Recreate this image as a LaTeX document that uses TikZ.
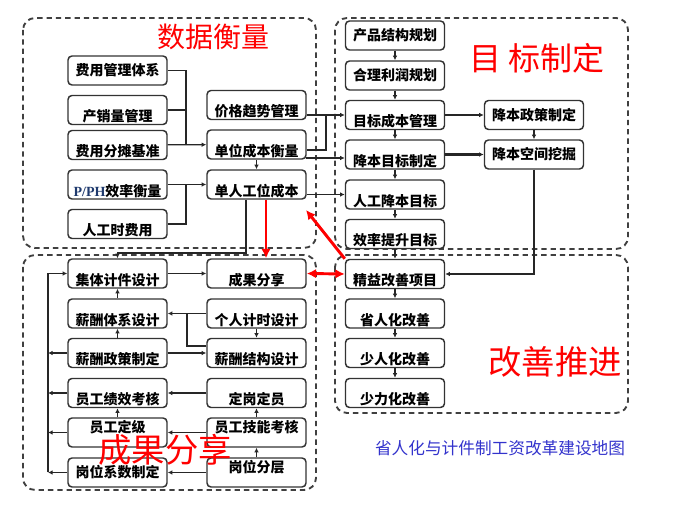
\documentclass[tikz,border=0pt]{standalone}
\usepackage{fontspec}
\setmainfont{Noto Sans CJK SC}
\newfontfamily\latinserif{Liberation Serif}
\usepackage{tikz}
\usetikzlibrary{arrows.meta,calc}
\definecolor{capblue}{HTML}{3333CC}
\definecolor{ppblue}{HTML}{1F3A6E}

\begin{document}
\begin{tikzpicture}[x=0.75pt, y=-0.75pt,
  box/.style={draw=black!80, line width=1.1pt, rounded corners=3pt, fill=white,
    minimum width=74.25pt, minimum height=21.75pt, inner xsep=1pt, inner ysep=0pt,
    font=\bfseries\fontsize{10.5}{12}\selectfont, text height=1.75em, text depth=0pt},
  boxmid/.style={box, text height=0.88em, text depth=0.12em},
  boxup/.style={box, text height=0.7em, text depth=0.7em},
  zone/.style={draw=black!75, line width=1.4pt, dash pattern=on 4pt off 3pt,
    rounded corners=9pt},
  title/.style={text=red, font=\fontsize{25}{28}\selectfont},
  line/.style={line width=1pt, black!85},
  flow/.style={line, -{Latex[length=3.5pt,width=3.5pt]}},
  bigflow/.style={-{Latex[length=7pt,width=7pt]}, line width=2.2pt, red},
  bigboth/.style={{Latex[length=7pt,width=7pt]}-{Latex[length=7pt,width=7pt]},
    line width=2.2pt, red}
]
\useasboundingbox (0,0) rectangle (682,505);
% dashed zones
\draw[zone] (23,18) rectangle (316,248);
\draw[zone] (335,18) rectangle (628,249);
\draw[zone] (23,255) rectangle (316,490);
\draw[zone] (335,255) rectangle (628,413);
% data measurement
\node[boxmid] (costsys) at (117.5,70.5) {费用管理体系};
\node[box] (volume) at (117.5,110) {产销量管理};
\node[box] (alloc) at (117.5,145) {费用分摊基准};
\node[box] (pph) at (117.5,184.5) {{\latinserif\color{ppblue}P/PH}效率衡量};
\node[box] (labhrs) at (117.5,224) {人工时费用};
\node[box] (price) at (256.5,105) {价格趋势管理};
\node[box] (unitcost) at (256.5,144.5) {单位成本衡量};
\node[box] (stationcost) at (256.5,184.5) {单人工位成本};
% target setting
\node[boxmid] (prodplan) at (395,35.5) {产品结构规划};
\node[boxmid] (profit) at (395,75.5) {合理利润规划};
\node[box] (tgtcost) at (395,115) {目标成本管理};
\node[box] (redtgt) at (395,154.5) {降本目标制定};
\node[box] (labtgt) at (395,194.5) {人工降本目标};
\node[box] (efftgt) at (395,234) {效率提升目标};
\node[boxmid] (redpol) at (534,115) {降本政策制定};
\node[boxmid] (redspace) at (534,154.5) {降本空间挖掘};
% improvement
\node[box] (lean) at (395,274) {精益改善项目};
\node[box] (saveman) at (395,313.5) {省人化改善};
\node[box] (lessman) at (395,353) {少人化改善};
\node[box] (lessforce) at (395,393) {少力化改善};
% result sharing
\node[box] (piece) at (117.5,273.5) {集体计件设计};
\node[box] (paysys) at (117.5,313.5) {薪酬体系设计};
\node[box] (paypol) at (117.5,353) {薪酬政策制定};
\node[box] (perf) at (117.5,393) {员工绩效考核};
\node[boxup] (grade) at (117.5,432.5) {员工定级};
\node[boxmid] (coeff) at (117.5,472.5) {岗位系数制定};
\node[box] (share) at (256.5,273.5) {成果分享};
\node[box] (hourly) at (256.5,313.5) {个人计时设计};
\node[box] (paystruct) at (256.5,353) {薪酬结构设计};
\node[box] (staffing) at (256.5,393) {定岗定员};
\node[boxup] (skill) at (256.5,432.5) {员工技能考核};
\node[boxup] (layer) at (256.5,472.5) {岗位分层};
% junctions
\coordinate (jA) at (186,145);
\coordinate (jB) at (186,184.5);
\coordinate (jC) at (326,115);
\coordinate (jD) at (326,150);
\coordinate (jE) at (306,158);
\coordinate (jF) at (246,253);
\coordinate (jG) at (266,0);
\coordinate (jH) at (306,210);
\coordinate (jI) at (187,313.5);
\coordinate (jJ) at (187,346);
\coordinate (bus) at (48,0);
% data links
\draw[line] (costsys.east) -| (jA);
\draw[line] (volume.east) -| (jA);
\draw[flow] (alloc) -- (unitcost);
\draw[flow] (pph) -- (stationcost);
\draw[line] (labhrs.east) -| (jB);
\draw[flow] (unitcost) -- (stationcost);
\draw[flow] (price.east |- tgtcost) -- (tgtcost.west);
\draw[line] (unitcost.east |- jD) -- (jD) -- (jC);
\draw[flow] (jE) -- (jE -| redtgt.west);
\draw[flow] (stationcost.east |- labtgt) -- (labtgt.west);
\draw[flow] (jF |- stationcost.south) -- (jF) -| (piece.north);
% target chain
\foreach \a/\b in {prodplan/profit, profit/tgtcost, tgtcost/redtgt, redtgt/labtgt,
  labtgt/efftgt, efftgt/lean, lean/saveman, saveman/lessman, lessman/lessforce}
  \draw[flow] (\a) -- (\b);
\draw[flow] (tgtcost) -- (redpol);
\draw[flow, line width=1.6pt] (redtgt) -- (redspace);
\draw[flow] (redpol) -- (redspace);
\draw[flow] (redspace.south) |- (lean.east);
% sharing links
\draw[flow] (piece) -- (share);
\draw[flow] (paysys) -- (piece);
\draw[flow] (paypol) -- (paysys);
\draw[flow] (hourly) -- (paysys);
\draw[flow] (hourly) -- (paystruct);
\draw[line] (paystruct.west |- jJ) -| (jI);
\draw[flow] (paypol) -- (paystruct);
\draw[flow] (staffing) -- (perf);
\draw[flow] (skill) -- (staffing);
\draw[flow] (grade) -- (perf);
\draw[flow] (skill) -- (grade);
\draw[flow] (layer) -- (skill);
\draw[flow] (layer) -- (coeff);
\foreach \n in {paypol,perf,grade,coeff}
  \draw[flow] (\n.west) -- (\n.west -| bus);
\draw[flow] (coeff.west -| bus) |- (piece.west);
% red links
\draw[bigflow] (stationcost.south -| jG) -- (share.north -| jG);
\draw[bigflow] (lean.north west) -- (jH);
\draw[bigboth] (share.east) -- (lean.west);
% titles
\node[title, font=\fontsize{21}{24}\selectfont] (tdata) at (213,37) {数据衡量};
\node[title, font=\fontsize{24}{28}\selectfont] (ttarget) at (537,58) {目 标制定};
\node[title] (timprove) at (555,362) {改善推进};
\node[title] (tshare) at (165,450) {成果分享};
\node[text=capblue, font=\fontsize{12.5}{14}\selectfont] (caption) at (500,448)
  {省人化与计件制工资改革建设地图};
\end{tikzpicture}
\end{document}
